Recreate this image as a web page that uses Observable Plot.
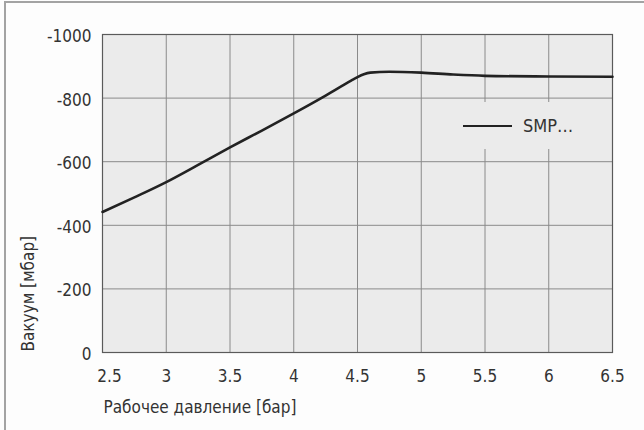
<!DOCTYPE html>
<html>
<head>
<meta charset="utf-8">
<script src="https://cdn.jsdelivr.net/npm/d3@7"></script>
<script src="https://cdn.jsdelivr.net/npm/@observablehq/plot@0.6"></script>
<style>
  html, body { margin: 0; padding: 0; background: #fdfdfd; }
  #wrap { position: relative; width: 644px; height: 430px; background: #fdfdfd; overflow: hidden;
          font-family: "DejaVu Sans Condensed", "DejaVu Sans", sans-serif; }
  #edge { position: absolute; left: 4px; top: 1px; right: 0; bottom: 0;
          border-left: 2px solid #a3a3a3; border-top: 2px solid #a3a3a3; pointer-events: none; }
  #legend { position: absolute; left: 456px; top: 102px; width: 136px; height: 47px; background: #ebebeb;
            display: flex; align-items: center; }
  #legend .sw { width: 49px; height: 0; border-top: 2.5px solid #222; margin-left: 7px; }
  #legend .lab { margin-left: 11px; font-size: 18px; color: #333; }
  svg { position: absolute; left: 0; top: 0; }
</style>
</head>
<body>
<div id="wrap"><div id="edge"></div></div>
<script>
// Data
const pressure = [2.5, 2.75, 3, 3.25, 3.5, 3.75, 4, 4.25, 4.45, 4.5, 4.55, 4.6, 4.75, 5, 5.25, 5.5, 6, 6.5];
const vacuum   = [-442, -488, -536, -590, -645, -698, -752, -808, -855, -866, -875, -880, -883, -880, -874, -870, -868, -867];
const xTicks = [2.5, 3, 3.5, 4, 4.5, 5, 5.5, 6, 6.5];
const yTicks = [0, -200, -400, -600, -800, -1000];
const seriesName = "SMP…";
const xLabel = "Рабочее давление [бар]";
const yLabel = "Вакуум [мбар]";

const data = pressure.map((p, i) => ({p, v: vacuum[i]}));
const font = `"DejaVu Sans Condensed", "DejaVu Sans", sans-serif`;

const chart = Plot.plot({
  width: 644,
  height: 430,
  marginLeft: 102,
  marginRight: 32,
  marginTop: 34,
  marginBottom: 78,
  style: {fontFamily: font, fontSize: "17px", color: "#333", background: "transparent"},
  x: {domain: [2.5, 6.5]},
  y: {domain: [0, -1000]},
  marks: [
    Plot.frame({fill: "#ebebeb"}),
    Plot.gridX(xTicks, {stroke: "#8a8a8a", strokeOpacity: 1, strokeWidth: 1}),
    Plot.gridY(yTicks, {stroke: "#8a8a8a", strokeOpacity: 1, strokeWidth: 1}),
    Plot.frame({stroke: "#5a5a5a", strokeWidth: 1.2}),
    Plot.line(data, {x: "p", y: "v", curve: "monotone-x", stroke: "#222", strokeWidth: 2.6}),
    Plot.axisX(xTicks.slice(1), {tickSize: 0, tickPadding: 17, tickFormat: d => String(d), label: null, fill: "#333", fontSize: 17}),
    Plot.axisX(xTicks.slice(0, 1), {tickSize: 0, tickPadding: 17, tickFormat: d => String(d), label: null, fill: "#333", fontSize: 17, dx: 7}),
    Plot.axisY(yTicks, {tickSize: 0, tickPadding: 11, tickFormat: d => String(d), label: null, fill: "#333", fontSize: 17, dy: 2}),
    Plot.text([xLabel], {text: d => d, frameAnchor: "bottom-left", textAnchor: "start", lineAnchor: "middle", dy: 55, dx: 1, fill: "#333", fontSize: 17}),
    Plot.text([yLabel], {text: d => d, frameAnchor: "bottom-left", textAnchor: "start", lineAnchor: "middle", rotate: -90, dx: -74, dy: -1, fill: "#333", fontSize: 17})
  ]
});

const wrap = document.getElementById("wrap");
wrap.insertBefore(chart, wrap.firstChild);

const legend = document.createElement("div");
legend.id = "legend";
legend.innerHTML = `<div class="sw"></div><div class="lab"></div>`;
legend.querySelector(".lab").textContent = seriesName;
wrap.appendChild(legend);
</script>
</body>
</html>
